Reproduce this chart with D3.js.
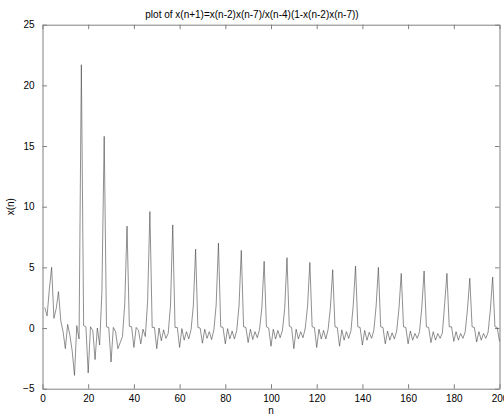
<!DOCTYPE html>
<html>
<head>
<meta charset="utf-8">
<script src="https://cdn.jsdelivr.net/npm/d3@7"></script>
<style>
  body { margin: 0; background: #fff; }
  svg text { font-family: "Liberation Sans", Arial, sans-serif; }
</style>
</head>
<body>
<svg id="wykres"></svg>
<script>
// dane, n = 1..200
let xn = [
  1.7, 1.0, 3.2, 5.0, 0.8, 1.6, 3.0, 0.6, -0.3, -1.7,
  0.3, -0.6, -1.9, -3.9, 0.2, -0.9, 21.7, 0.2, 0.1, -3.7,
  0.1, -0.2, -2.6, 0.0, -1.4, 3.0, 15.8, 0.1, 0.05, -2.8,
  0.05, -0.3, -1.7, -1.2, -0.7, 2.0, 8.4, 0.15, 0.1, -1.6,
  0.05, -0.2, -1.3, -0.1, -0.7, 2.2, 9.6, 0.05, 0.05, -1.7,
  0.0, -1.05, -0.15, -0.85, -0.45, 1.8, 8.5, 0.05, 0.05, -1.6,
  -0.05, -1.0, -0.3, -0.9, -0.15, 1.8, 6.5, 0.05, 0.0, -1.25,
  -0.1, -0.85, -0.3, -0.95, -0.15, 1.9, 7.0, 0.1, 0.05, -1.3,
  -0.05, -0.9, -0.25, -0.9, -0.2, 1.8, 6.4, 0.1, 0.05, -1.2,
  -0.1, -0.95, -0.3, -0.8, -0.1, 1.7, 5.5, 0.1, 0.0, -1.5,
  -0.1, -0.9, -0.2, -0.8, -0.2, 1.6, 5.8, 0.15, 0.05, -1.7,
  -0.1, -0.9, -0.3, -0.8, 0.0, 1.8, 5.4, 0.1, 0.05, -1.6,
  -0.1, -0.9, -0.2, -0.9, -0.1, 1.7, 4.8, 0.1, 0.05, -1.5,
  -0.15, -1.0, -0.3, -0.85, -0.2, 1.9, 5.1, 0.1, 0.05, -1.4,
  -0.2, -1.0, -0.35, -0.85, -0.2, 1.8, 5.0, 0.1, 0.05, -1.3,
  -0.25, -1.0, -0.4, -0.9, -0.25, 1.6, 4.5, 0.1, 0.05, -1.3,
  -0.25, -1.0, -0.45, -0.85, -0.3, 1.7, 4.7, 0.1, 0.05, -1.2,
  -0.3, -1.0, -0.45, -0.85, -0.4, 2.0, 4.5, 0.1, 0.1, -1.1,
  -0.3, -1.0, -0.45, -0.85, -0.3, 1.6, 4.1, 0.1, 0.05, -1.15,
  -0.3, -1.0, -0.45, -0.85, -0.35, 1.5, 4.2, 0.1, 0.05, -1.1
];
let xTicks = [0, 20, 40, 60, 80, 100, 120, 140, 160, 180, 200];
let yTicks = [-5, 0, 5, 10, 15, 20, 25];
let tytul = 'plot of x(n+1)=x(n-2)x(n-7)/x(n-4)(1-x(n-2)x(n-7))';

let W = 504, H = 418;
let lewo = 42.5, prawo = 499.5, gora = 24.7, dol = 388.7;

let svg = d3.select('#wykres').attr('width', W).attr('height', H);

let x = d3.scaleLinear().domain([0, 200]).range([lewo, prawo]);
let y = d3.scaleLinear().domain([-5, 25]).range([dol, gora]);

let kolorOsi = '#808080';
let tick = 4.5;

// osie - tiki do środka jak w matlabie
let gDol = svg.append('g').attr('transform', 'translate(0,' + dol + ')')
  .call(d3.axisBottom(x).tickValues(xTicks).tickSizeInner(-tick).tickSizeOuter(0).tickPadding(6));
let gGora = svg.append('g').attr('transform', 'translate(0,' + gora + ')')
  .call(d3.axisTop(x).tickValues(xTicks).tickSizeInner(-tick).tickSizeOuter(0).tickFormat(''));
let gLewo = svg.append('g').attr('transform', 'translate(' + lewo + ',0)')
  .call(d3.axisLeft(y).tickValues(yTicks).tickSizeInner(-tick).tickSizeOuter(0).tickPadding(8));
let gPrawo = svg.append('g').attr('transform', 'translate(' + prawo + ',0)')
  .call(d3.axisRight(y).tickValues(yTicks).tickSizeInner(-tick).tickSizeOuter(0).tickFormat(''));

[gDol, gGora, gLewo, gPrawo].forEach(function(g) {
  g.select('.domain').attr('stroke', kolorOsi).attr('stroke-width', 1);
  g.selectAll('.tick line').attr('stroke', kolorOsi);
  g.selectAll('.tick text').attr('fill', '#000').attr('font-size', 10)
    .attr('font-family', '"Liberation Sans", Arial, sans-serif');
});

// linia danych
let line = d3.line()
  .x(function(d, i) { return x(i + 1); })
  .y(function(d) { return y(d); });

svg.append('path')
  .datum(xn)
  .attr('d', line)
  .attr('fill', 'none')
  .attr('stroke', '#444')
  .attr('stroke-width', 0.6);

// podpisy
svg.append('text').attr('x', 252).attr('y', 18).attr('text-anchor', 'middle')
  .attr('font-size', 10).text(tytul);
svg.append('text').attr('x', (lewo + prawo) / 2).attr('y', 414).attr('text-anchor', 'middle')
  .attr('font-size', 10).text('n');
svg.append('text').attr('transform', 'translate(14,' + ((gora + dol) / 2) + ') rotate(-90)')
  .attr('text-anchor', 'middle').attr('font-size', 10).text('x(n)');
</script>
</body>
</html>
